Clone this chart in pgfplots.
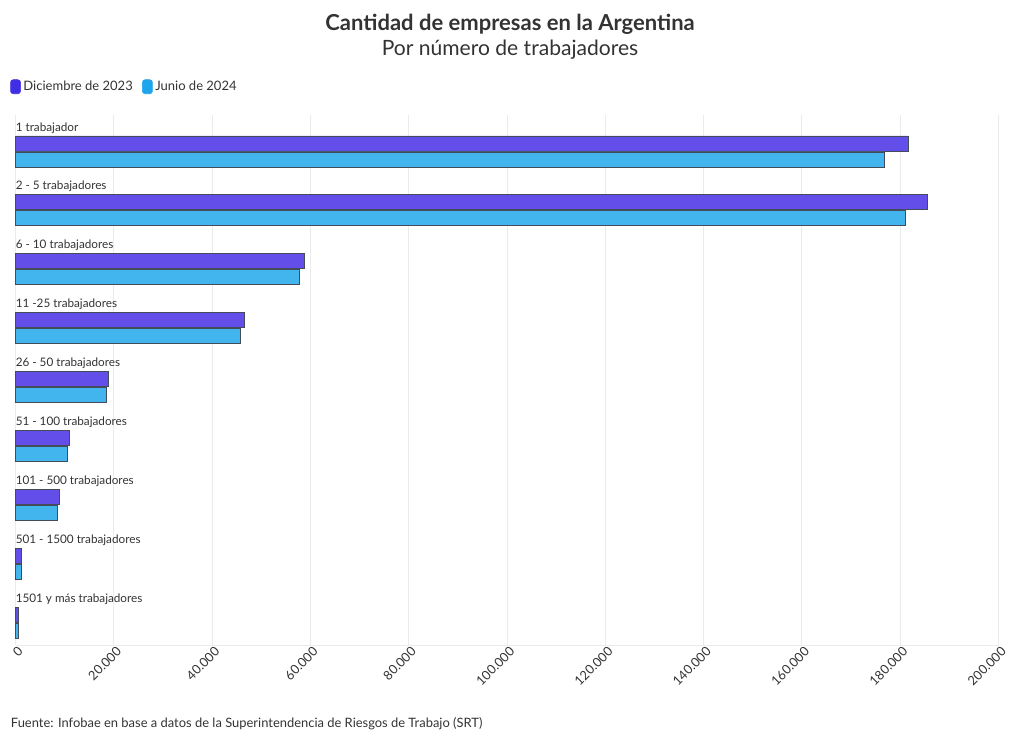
\documentclass[border=0pt]{standalone}
\usepackage{fontspec}
\setmainfont{Lato}
\usepackage{pgfplots}
\pgfplotsset{compat=1.18}
\definecolor{dic}{HTML}{634EE9}
\definecolor{jun}{HTML}{42B4EE}
\definecolor{dicleg}{HTML}{3F2EE3}
\definecolor{junleg}{HTML}{1FA5EE}
\definecolor{edge}{HTML}{444C5A}
\definecolor{txt}{HTML}{333333}
\definecolor{gridc}{HTML}{EBEBEB}
\begin{document}
\begin{tikzpicture}
\useasboundingbox (0,0) rectangle (765pt,558pt);
\node[font=\bfseries\fontsize{16.5pt}{18pt}\selectfont, text=txt] at (382.5pt,540pt) {Cantidad de empresas en la Argentina};
\node[font=\fontsize{15.8pt}{17pt}\selectfont, text=txt] at (382.5pt,520.5pt) {Por número de trabajadores};
\node[font=\fontsize{9.7pt}{11pt}\selectfont, text=txt, anchor=west, inner sep=0pt] at (8pt,15.5pt) {Fuente: Infobae en base a datos de la Superintendencia de Riesgos de Trabajo (SRT)};
\begin{axis}[
  at={(11.625pt,74.25pt)}, anchor=south west,
  scale only axis, width=737.25pt, height=397.5pt,
  xmin=0, xmax=200000, ymin=-0.618, ymax=8.382, y dir=reverse,
  xbar, bar width=11.25pt,
  axis y line=none,
  axis x line*=bottom,
  axis line style={draw=gridc, -},
  xtick={0,20000,40000,60000,80000,100000,120000,140000,160000,180000,200000},
  xticklabels={0,20.000,40.000,60.000,80.000,100.000,120.000,140.000,160.000,180.000,200.000},
  scaled x ticks=false,
  xticklabel style={rotate=45, anchor=east, font=\fontsize{9.6pt}{10pt}\selectfont, text=txt, inner sep=1pt, yshift=-5pt, xshift=1.5pt},
  xmajorgrids, major grid style={draw=gridc, line width=0.75pt},
  major tick length=0pt,
  ytick=\empty,
  clip=false,
  legend style={at={(-0.0056,1.0698)}, anchor=north west, draw=none, fill=none,
     font=\fontsize{9.75pt}{11pt}\selectfont, text=txt, inner sep=0pt,
     /tikz/every even column/.append style={column sep=5pt}},
  legend columns=2,
  legend cell align=left,
]
\addlegendimage{legend image code/.code={\fill[dicleg, rounded corners=2pt] (0pt,-5.25pt) rectangle (7.5pt,5.25pt);}}
\addlegendentry{Diciembre de 2023}
\addlegendimage{legend image code/.code={\fill[junleg, rounded corners=2pt] (0pt,-5.25pt) rectangle (7.5pt,5.25pt);}}
\addlegendentry{Junio de 2024}
\addplot[fill=dic, draw=edge, line width=0.6pt, bar shift=6pt, forget plot] coordinates {
 (181600,0) (185600,1) (58800,2) (46600,3) (18800,4) (10900,5) (8850,6) (1250,7) (580,8)};
\addplot[fill=jun, draw=edge, line width=0.6pt, bar shift=-6pt, forget plot] coordinates {
 (176800,0) (181100,1) (57700,2) (45700,3) (18500,4) (10600,5) (8600,6) (1200,7) (500,8)};
\tikzset{catlab/.style={anchor=west, inner sep=0pt, font=\fontsize{8.8pt}{10pt}\selectfont, text=txt}}
\node[catlab] at (axis cs:0,-0.4) {1 trabajador};
\node[catlab] at (axis cs:0,0.6) {2 - 5 trabajadores};
\node[catlab] at (axis cs:0,1.6) {6 - 10 trabajadores};
\node[catlab] at (axis cs:0,2.6) {11 -25 trabajadores};
\node[catlab] at (axis cs:0,3.6) {26 - 50 trabajadores};
\node[catlab] at (axis cs:0,4.6) {51 - 100 trabajadores};
\node[catlab] at (axis cs:0,5.6) {101 - 500 trabajadores};
\node[catlab] at (axis cs:0,6.6) {501 - 1500 trabajadores};
\node[catlab] at (axis cs:0,7.6) {1501 y más trabajadores};
\end{axis}
\end{tikzpicture}
\end{document}
